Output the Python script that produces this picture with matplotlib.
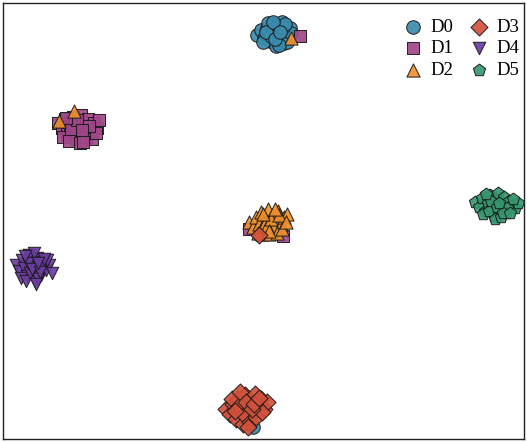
import matplotlib
matplotlib.use("Agg")
import matplotlib.pyplot as plt

# Embedding coordinates for each class (2-D projection)
labels = ["D0", "D1", "D2", "D3", "D4", "D5"]

d0_x = [254, 258, 261, 264, 267, 269, 271, 273, 275, 277, 279, 281, 283, 285, 287,
        260, 265, 270, 274, 279, 284, 288, 268, 276, 280, 263, 282, 272, 270, 277, 250]
d0_y = [404, 409, 401, 411, 398, 415, 406, 393, 410, 402, 417, 396, 408, 403, 411,
        397, 416, 409, 413, 399, 397, 406, 403, 394, 412, 407, 415, 400, 417, 407, 12]

d1_x = [55, 59, 62, 64, 67, 70, 72, 74, 76, 78, 80, 82, 85, 88, 91, 94, 96,
        60, 66, 71, 77, 83, 89, 93, 68, 74, 80, 86, 63, 79, 297, 246, 280]
d1_y = [316, 311, 320, 305, 313, 322, 308, 300, 317, 324, 305, 312, 320, 308, 316, 311, 319,
        302, 298, 314, 296, 302, 300, 306, 310, 319, 297, 313, 321, 309, 403, 210, 203]

d2_x = [246, 250, 253, 256, 258, 261, 263, 265, 267, 269, 271, 273, 275, 278, 281, 284,
        259, 262, 266, 270, 274, 279, 255, 264, 268, 276, 283, 260, 272, 266, 288, 71, 56]
d2_y = [217, 212, 222, 215, 227, 210, 220, 230, 214, 224, 209, 219, 228, 215, 222, 225,
        205, 216, 205, 213, 206, 210, 206, 213, 220, 224, 217, 225, 230, 208, 401, 328, 318]

d3_x = [223, 227, 230, 233, 235, 238, 240, 242, 244, 246, 248, 250, 252, 255, 258, 261, 264,
        229, 236, 241, 247, 253, 259, 237, 243, 249, 232, 245, 251, 256, 256]
d3_y = [30, 25, 35, 20, 40, 28, 15, 44, 33, 22, 38, 27, 45, 34, 40, 30, 37,
        40, 33, 24, 17, 22, 27, 47, 37, 30, 28, 12, 35, 41, 204]

d4_x = [13, 16, 19, 21, 24, 26, 28, 30, 32, 34, 36, 38, 40, 43, 46, 49,
        18, 23, 27, 31, 35, 39, 44, 25, 29, 33, 37, 41, 22, 35]
d4_y = [174, 168, 179, 171, 163, 184, 176, 169, 158, 181, 172, 164, 177, 169, 174, 166,
        161, 158, 166, 186, 160, 173, 179, 176, 170, 155, 167, 180, 183, 176]

d5_x = [472, 476, 479, 482, 485, 487, 489, 491, 493, 495, 497, 499, 501, 503, 506, 509, 512, 515,
        480, 486, 492, 498, 504, 510, 488, 494, 500, 483, 496, 507]
d5_y = [237, 232, 241, 228, 236, 244, 231, 223, 239, 246, 229, 235, 242, 226, 238, 233, 231, 236,
        225, 228, 220, 222, 231, 240, 238, 232, 226, 245, 236, 226]

xs = [d0_x, d1_x, d2_x, d3_x, d4_x, d5_x]
ys = [d0_y, d1_y, d2_y, d3_y, d4_y, d5_y]

colors = ["#3a8cae", "#a1478a", "#f0902c", "#d2513b", "#6b3ca2", "#36976f"]
markers = ["o", "s", "^", "D", "v", "p"]
sizes = [95, 80, 90, 75, 80, 85]

fig = plt.figure(figsize=(5.27, 4.42), dpi=100)
ax = fig.add_axes([3 / 527, 3 / 442, 521 / 527, 436 / 442])

for lab, x, y, c, m, s in zip(labels, xs, ys, colors, markers, sizes):
    ax.scatter(x, y, s=s, c=c, marker=m, edgecolors="#1a1a1a", linewidths=0.75,
               alpha=0.92, label=lab)

ax.set_xlim(0, 521)
ax.set_ylim(0, 436)
ax.set_xticks([])
ax.set_yticks([])
for sp in ax.spines.values():
    sp.set_linewidth(1.0)
    sp.set_color("#222222")

ax.legend(loc="upper right", bbox_to_anchor=(1.0, 0.974), ncol=2, frameon=False,
          prop={"family": "Liberation Serif", "size": 13.5},
          handletextpad=0.45, columnspacing=0.85, labelspacing=0.22,
          borderaxespad=0.0, borderpad=0.25, handlelength=1.0, markerscale=1.0)

fig.savefig("out.png", dpi=100)
